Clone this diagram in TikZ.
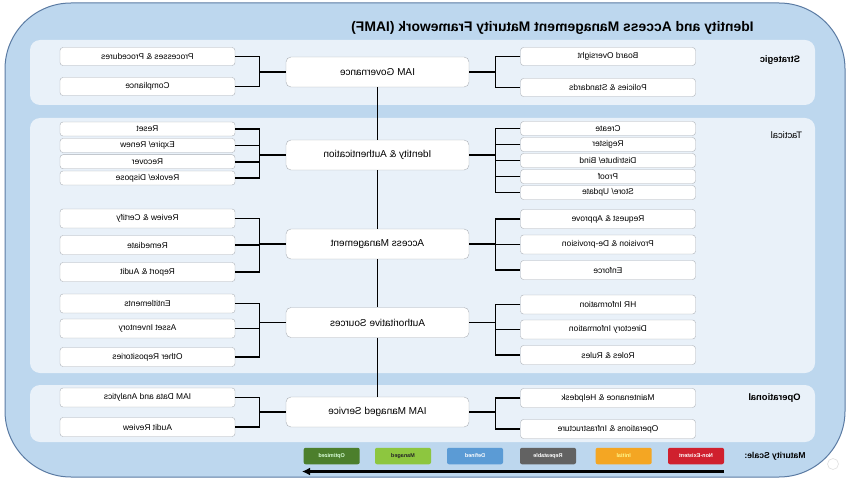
\documentclass[tikz,border=0pt]{standalone}
\usepackage{fontspec}
\setmainfont{Liberation Sans}
\usetikzlibrary{arrows.meta}

\definecolor{outerblue}{HTML}{BDD7EE}
\definecolor{outerline}{HTML}{5B7BA3}
\definecolor{bandblue}{HTML}{E9F1F9}
\definecolor{boxline}{HTML}{ABB0B6}
\definecolor{nonred}{HTML}{D0202E}
\definecolor{initorange}{HTML}{F4A623}
\definecolor{repgray}{HTML}{626262}
\definecolor{defblue}{HTML}{5B9BD5}
\definecolor{mangreen}{HTML}{8DC63F}
\definecolor{optgreen}{HTML}{4C7F2C}

% the whole chart reads mirrored
\newcommand{\rev}[1]{\reflectbox{#1}}

\tikzset{
  band/.style={fill=bandblue, rounded corners=10pt},
  item/.style={draw=boxline, fill=white, rounded corners=3pt, minimum width=175pt,
    minimum height=18pt, inner sep=0pt, font=\fontsize{8.4}{10}\selectfont},
  thin item/.style={item, minimum height=14pt},
  tall item/.style={item, minimum height=19pt},
  hub/.style={draw=boxline, fill=white, rounded corners=5pt, minimum width=183pt,
    minimum height=30pt, inner sep=0pt, font=\fontsize{10}{12}\selectfont},
  tier/.style={font=\fontsize{9.4}{11}\selectfont\bfseries},
  grade/.style={fill=#1, rounded corners=2pt, minimum width=56pt, minimum height=16.5pt,
    inner sep=0pt, font=\fontsize{5.5}{6}\selectfont\bfseries},
  link/.style={line width=1.9pt}
}

\begin{document}
\begin{tikzpicture}[x=1pt,y=-1pt]
  \useasboundingbox (0,0) rectangle (850,481);
  \draw[outerline, fill=outerblue, line width=1pt, rounded corners=66pt] (5,3) rectangle (845,477);
  \node[font=\fontsize{13.9}{16}\selectfont\bfseries] (title) at (552.5,28)
    {\rev{Identity and Access Management Maturity Framework (IAMF)}};

  % tiers
  \fill[band] (30,40) rectangle (815,105);
  \fill[band] (30,118) rectangle (815,373);
  \fill[band] (30,385) rectangle (815,442);
  \node[tier] (strat) at (780,60) {\rev{Strategic}};
  \node[tier, font=\fontsize{9.4}{11}\selectfont] (tact) at (786.5,135) {\rev{Tactical}};
  \node[tier] (oper) at (774.5,398) {\rev{Operational}};
  \node[tier, font=\fontsize{8.6}{10}\selectfont\bfseries] (scale) at (775,456) {\rev{Maturity Scale:}};

  % middle column
  \node[hub] (gov) at (377.5,72) {\rev{IAM Governance}};
  \node[hub] (ida) at (377.5,155) {\rev{Identity \& Authentication}};
  \node[hub] (acc) at (377.5,244) {\rev{Access Management}};
  \node[hub] (aut) at (377.5,322.5) {\rev{Authoritative Sources}};
  \node[hub] (svc) at (377.5,412) {\rev{IAM Managed Service}};

  % left column
  \node[item] (proc) at (147.5,56.5) {\rev{Processes \& Procedures}};
  \node[item] (comp) at (147.5,86.5) {\rev{Compliance}};
  \node[thin item] (reset) at (147.5,129) {\rev{Reset}};
  \node[thin item] (expire) at (147.5,145.5) {\rev{Expire/ Renew}};
  \node[thin item] (recover) at (147.5,161.7) {\rev{Recover}};
  \node[thin item] (revoke) at (147.5,178) {\rev{Revoke/ Dispose}};
  \node[tall item] (review) at (147.5,218.5) {\rev{Review \& Certify}};
  \node[tall item] (remed) at (147.5,245) {\rev{Remediate}};
  \node[tall item] (report) at (147.5,272) {\rev{Report \& Audit}};
  \node[tall item] (entitle) at (147.5,303.5) {\rev{Entitlements}};
  \node[tall item] (asset) at (147.5,328.5) {\rev{Asset Inventory}};
  \node[tall item] (other) at (147.5,357) {\rev{Other Repositories}};
  \node[tall item] (data) at (147.5,397.5) {\rev{IAM Data and Analytics}};
  \node[tall item] (audit) at (147.5,427) {\rev{Audit Review}};

  % right column
  \node[item] (board) at (608,56.5) {\rev{Board Oversight}};
  \node[item] (policy) at (608,87.5) {\rev{Policies \& Standards}};
  \node[thin item] (create) at (608,128.5) {\rev{Create}};
  \node[thin item] (register) at (608,144.5) {\rev{Register}};
  \node[thin item] (distrib) at (608,160.5) {\rev{Distribute/ Bind}};
  \node[thin item] (proof) at (608,176.5) {\rev{Proof}};
  \node[thin item] (store) at (608,192.5) {\rev{Store/ Update}};
  \node[tall item] (request) at (608,219) {\rev{Request \& Approve}};
  \node[tall item] (prov) at (608,244.5) {\rev{Provision \& De-provision}};
  \node[tall item] (enforce) at (608,270) {\rev{Enforce}};
  \node[tall item] (hr) at (608,304.5) {\rev{HR Information}};
  \node[tall item] (dir) at (608,329.5) {\rev{Directory Information}};
  \node[tall item] (roles) at (608,355) {\rev{Roles \& Rules}};
  \node[tall item] (maint) at (608,398) {\rev{Maintenance \& Helpdesk}};
  \node[tall item] (ops) at (608,429) {\rev{Operations \& Infrastructure}};

  % connectors
  \coordinate (lbus) at (259.5,0);
  \coordinate (rbus) at (495.5,0);
  \draw[link] (gov.south) -- (ida.north) (ida.south) -- (acc.north)
    (acc.south) -- (aut.north) (aut.south) -- (svc.north);
  \foreach \hub/\first/\last in {gov/proc/comp, ida/reset/revoke, acc/review/report,
      aut/entitle/other, svc/data/audit}
    \draw[link] (\first.east) -- (\first.east -| lbus) -- (\last.east -| lbus) -- (\last.east)
      (\hub.west) -- (\hub.west -| lbus);
  \foreach \n in {expire, recover, remed, asset}
    \draw[link] (\n.east) -- (\n.east -| lbus);
  \foreach \hub/\first/\last in {gov/board/policy, ida/create/store, acc/request/enforce,
      aut/hr/roles, svc/maint/ops}
    \draw[link] (\first.west) -- (\first.west -| rbus) -- (\last.west -| rbus) -- (\last.west)
      (\hub.east) -- (\hub.east -| rbus);
  \foreach \n in {register, distrib, proof, prov, dir}
    \draw[link] (\n.west) -- (\n.west -| rbus);

  % maturity scale
  \node[grade=nonred, text=white] (non) at (696,456) {\rev{Non-Existent}};
  \node[grade=initorange, text=yellow!45] (init) at (623.7,456) {\rev{Initial}};
  \node[grade=repgray, text=white] (rep) at (548,456) {\rev{Repeatable}};
  \node[grade=defblue, text=white] (def) at (475,456) {\rev{Defined}};
  \node[grade=mangreen, text=black!85] (man) at (403,456) {\rev{Managed}};
  \node[grade=optgreen, text=white!85!green] (opt) at (331.7,456) {\rev{Optimized}};
  \coordinate (scalestart) at (724,471.5);
  \coordinate (scaleend) at (302,471.5);
  \draw[line width=2.6pt, -{Latex[length=8pt,width=8pt]}] (scalestart) -- (scaleend);
  \draw[gray!25, line width=0.6pt] (833,464) circle (5.5);
\end{tikzpicture}
\end{document}
